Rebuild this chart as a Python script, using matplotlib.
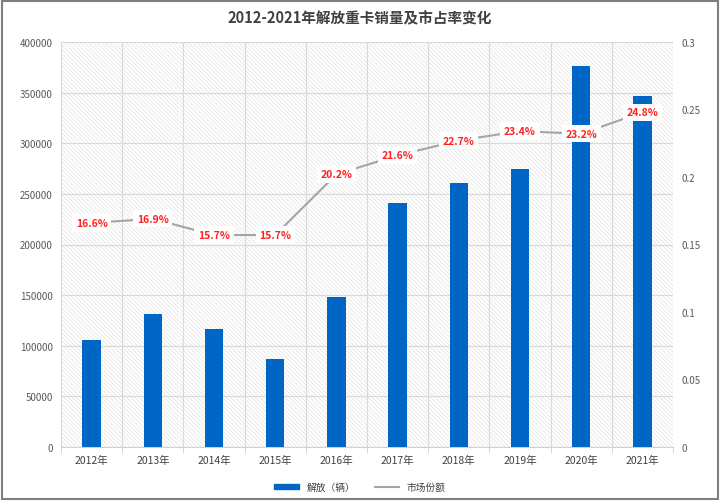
import matplotlib
matplotlib.use("Agg")
import matplotlib.pyplot as plt
from matplotlib.patches import Rectangle
from matplotlib.lines import Line2D
import numpy as np

plt.rcParams['font.family'] = ['Noto Sans CJK SC', 'DejaVu Sans']
plt.rcParams['hatch.color'] = '#e6e6e6'
plt.rcParams['hatch.linewidth'] = 0.6

years = ['2012年', '2013年', '2014年', '2015年', '2016年', '2017年', '2018年', '2019年', '2020年', '2021年']
sales = [105500, 131000, 117000, 86500, 148000, 241000, 261000, 275000, 376000, 347000]
share = [0.166, 0.169, 0.157, 0.157, 0.202, 0.216, 0.227, 0.234, 0.232, 0.248]
share_labels = ['16.6%', '16.9%', '15.7%', '15.7%', '20.2%', '21.6%', '22.7%', '23.4%', '23.2%', '24.8%']

fig = plt.figure(figsize=(7.2, 5.02), dpi=100)
fig.patches.append(Rectangle((0.003, 0.003), 0.994, 0.994, transform=fig.transFigure,
                             fill=False, edgecolor='#7f7f7f', linewidth=1.5))
ax = fig.add_axes([61/720, 1-448/502, 612/720, 405/502])
ax.set_facecolor('white')
ax.add_patch(Rectangle((0, 0), 1, 1, transform=ax.transAxes, facecolor='white',
                       edgecolor='#e6e6e6', hatch='\\' * 8, linewidth=0, zorder=0))

x = np.arange(len(years))
ax.bar(x, sales, width=0.3, color='#0066c6', zorder=3, label='解放（辆）')
ax.set_xlim(-0.5, len(years) - 0.5)
ax.set_ylim(0, 400000)
ax.set_yticks(np.arange(0, 400001, 50000))
ax.set_yticklabels([str(v) for v in range(0, 400001, 50000)])
ax.set_xticks(x)
ax.set_xticklabels(years)
ax.set_xticks(np.arange(-0.5, len(years)), minor=True)
ax.tick_params(axis='x', which='major', length=0, labelsize=7.5, colors='#404040', pad=6)
ax.tick_params(axis='x', which='minor', length=4, color='#d0d0d0')
ax.tick_params(axis='y', length=0, labelsize=7, colors='#595959', pad=6)
ax.grid(axis='y', color='#d9d9d9', linewidth=0.8, zorder=1)
for b in np.arange(-0.5, len(years)):
    ax.axvline(b, color='#d9d9d9', linewidth=0.8, zorder=1)
for s in ['top', 'right', 'left']:
    ax.spines[s].set_visible(False)
ax.spines['bottom'].set_color('#d0d0d0')

ax2 = ax.twinx()
ax2.set_ylim(0, 0.3)
ax2.set_yticks([0, 0.05, 0.1, 0.15, 0.2, 0.25, 0.3])
ax2.set_yticklabels(['0', '0.05', '0.1', '0.15', '0.2', '0.25', '0.3'])
ax2.tick_params(axis='y', length=0, labelsize=7, colors='#595959', pad=6)
for s in ['top', 'right', 'left', 'bottom']:
    ax2.spines[s].set_visible(False)
ax2.plot(x, share, color='#a5a5a5', linewidth=1.5, zorder=4, label='市场份额')
for xi, v, lab in zip(x, share, share_labels):
    ax2.text(xi, v, lab, ha='center', va='center', fontsize=7.5, color='#ff2020',
             fontweight='bold', zorder=5,
             bbox=dict(boxstyle='square,pad=0.35', facecolor='white', edgecolor='none'))

fig.text(0.5, 1-18/502, '2012-2021年解放重卡销量及市占率变化', ha='center', va='center',
         fontsize=10.5, color='#404040', fontweight='bold')

handles = [Rectangle((0, 0), 1, 1, color='#0066c6'),
           Line2D([0], [0], color='#a5a5a5', linewidth=1.5)]
fig.legend(handles, ['解放（辆）', '市场份额'], loc='center', bbox_to_anchor=(0.5, 1-488/502),
           ncol=2, frameon=False, fontsize=7, handlelength=2.5, handleheight=0.5,
           columnspacing=2, labelcolor='#404040')

fig.savefig('out.png', dpi=100)
